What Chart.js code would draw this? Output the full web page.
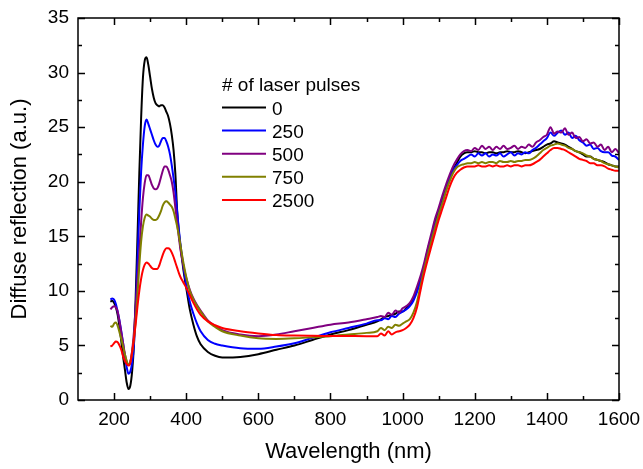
<!DOCTYPE html>
<html>
<head>
<meta charset="utf-8">
<title>Diffuse reflection</title>
<script src="https://cdn.jsdelivr.net/npm/chart.js@4/dist/chart.umd.min.js"></script>
<style>
  html, body { margin: 0; padding: 0; background: #fff; }
  canvas { display: block; }
</style>
</head>
<body>
<canvas id="chart" width="643" height="469"></canvas>
<script>
// wavelength grid (nm), shared by every series
const wavelength = [
  190, 195, 200, 205, 210, 215, 220, 225, 230, 235, 240, 245, 250, 255, 260, 265, 270, 275, 280, 285,
  290, 295, 300, 305, 310, 315, 320, 325, 330, 335, 340, 345, 350, 355, 360, 365, 370, 375, 380, 385,
  390, 395, 400,
  410, 420, 430, 440, 460, 480, 500, 550, 600, 650, 700, 750, 800, 850, 900, 930,
  940, 950, 960, 970, 980, 990, 1000, 1010, 1020, 1030,
  1040, 1050, 1060, 1070, 1080, 1090, 1100, 1110, 1120, 1130,
  1140, 1150, 1160, 1170, 1180, 1190, 1200, 1210, 1220, 1230,
  1240, 1250, 1260, 1270, 1280, 1290, 1300, 1310, 1320, 1330,
  1340, 1350, 1360, 1370, 1380, 1390, 1400, 1410, 1420, 1430,
  1440, 1450, 1460, 1470, 1480, 1490, 1500, 1510, 1520, 1530,
  1540, 1550, 1560, 1570, 1580, 1590, 1600
];

// diffuse reflection (a.u.) for each number of laser pulses
const pulses0 = [
  9.0, 9.1, 8.9, 8.5, 7.8, 6.7, 5.4, 4.0, 2.8, 1.6, 1.0, 1.3, 2.6, 5.0, 9.5, 15.0, 20.8, 25.8, 29.5, 31.1,
  31.4, 30.7, 29.6, 28.5, 27.7, 27.2, 27.0, 26.9, 27.0, 27.0, 26.8, 26.4, 26.0, 25.3, 24.3, 22.9, 20.7, 17.3, 15.3, 13.8,
  12.5, 11.3, 10.3,
  8.3, 6.9, 5.8, 5.1, 4.4, 4.05, 3.9, 3.95, 4.2, 4.6, 5.0, 5.5, 6.0, 6.4, 6.9, 7.2,
  7.4, 7.6, 7.7, 7.8, 7.9, 8.1, 8.1, 8.4, 8.7, 9.3,
  10.2, 11.1, 12.3, 13.8, 15.0, 16.4, 17.4, 18.4, 19.5, 20.4,
  21.1, 21.7, 22.3, 22.6, 22.7, 22.7, 22.8, 22.7, 22.7, 22.6,
  22.7, 22.7, 22.6, 22.7, 22.7, 22.8, 22.7, 22.7, 22.8, 22.7,
  22.6, 22.7, 22.8, 22.9, 23.0, 23.2, 23.4, 23.5, 23.7, 23.6,
  23.5, 23.4, 23.2, 23.0, 22.8, 22.7, 22.5, 22.3, 22.3, 22.1,
  22.0, 21.9, 21.8, 21.6, 21.5, 21.4, 21.4
];
const pulses250 = [
  9.2, 9.3, 9.2, 8.8, 8.1, 7.3, 6.3, 5.2, 4.0, 3.0, 2.4, 2.6, 3.4, 5.0, 8.5, 12.8, 17.3, 20.9, 23.4, 25.1,
  25.7, 25.3, 24.8, 24.3, 23.8, 23.4, 23.2, 23.3, 23.7, 24.0, 24.0, 23.7, 23.2, 22.5, 21.5, 20.3, 19.0, 17.2, 15.5, 14.0,
  12.8, 11.6, 10.6,
  9.0, 7.9, 7.0, 6.3, 5.5, 5.15, 5.0, 4.75, 4.7, 4.9, 5.2, 5.7, 6.2, 6.6, 7.0, 7.3,
  7.3, 7.5, 7.4, 7.7, 7.6, 7.9, 8.1, 8.3, 8.6, 9.1,
  9.9, 10.9, 12.0, 13.4, 14.7, 16.0, 17.0, 18.1, 19.2, 20.2,
  21.0, 21.5, 21.9, 22.1, 22.3, 22.5, 22.3, 22.6, 22.4, 22.6,
  22.3, 22.5, 22.4, 22.6, 22.3, 22.5, 22.7, 22.4, 22.6, 22.5,
  22.7, 22.6, 22.9, 23.1, 23.4, 23.7, 24.0, 24.5, 24.2, 24.5,
  24.7, 24.3, 24.5, 24.0, 24.2, 23.8, 23.6, 23.3, 23.4, 23.0,
  23.1, 22.8, 22.7, 22.7, 22.4, 22.3, 22.0
];
const pulses500 = [
  8.3, 8.5, 8.6, 8.5, 8.1, 7.2, 6.2, 5.2, 4.2, 3.5, 3.2, 3.5, 4.5, 6.2, 8.5, 11.0, 13.5, 16.3, 18.5, 19.9,
  20.6, 20.6, 20.2, 19.7, 19.4, 19.3, 19.4, 19.8, 20.4, 21.0, 21.4, 21.4, 21.1, 20.6, 20.0, 19.0, 17.6, 16.2, 14.8, 13.6,
  12.7, 11.9, 11.2,
  10.1, 9.3, 8.7, 8.2, 7.3, 6.8, 6.4, 6.0, 5.85, 6.0, 6.3, 6.6, 6.9, 7.1, 7.4, 7.6,
  7.7, 7.6, 8.0, 7.8, 8.2, 8.0, 8.4, 8.6, 8.9, 9.5,
  10.4, 11.4, 12.6, 14.0, 15.3, 16.6, 17.6, 18.7, 19.7, 20.6,
  21.4, 22.0, 22.5, 22.8, 22.9, 22.8, 23.1, 22.9, 23.3, 23.0,
  23.2, 22.9, 23.2, 23.0, 23.3, 23.0, 23.1, 23.3, 23.0, 23.2,
  23.1, 23.4, 23.2, 23.6, 23.8, 24.1, 24.3, 25.0, 24.4, 24.6,
  24.5, 24.9, 24.3, 24.5, 24.0, 24.1, 23.7, 23.9, 23.5, 23.6,
  23.2, 23.4, 22.9, 23.2, 22.7, 23.0, 22.6
];
const pulses750 = [
  6.8, 6.7, 7.0, 7.1, 6.8, 6.2, 5.6, 4.9, 4.2, 3.6, 3.2, 3.5, 4.3, 5.6, 7.3, 9.6, 12.3, 14.5, 15.9, 16.7,
  17.0, 16.9, 16.8, 16.6, 16.5, 16.5, 16.6, 16.9, 17.3, 17.8, 18.1, 18.2, 18.1, 17.9, 17.7, 17.3, 16.6, 15.9, 15.0, 14.0,
  13.0, 12.1, 11.3,
  10.0, 9.2, 8.6, 8.1, 7.2, 6.7, 6.3, 5.9, 5.65, 5.6, 5.65, 5.75, 5.85, 6.0, 6.15, 6.3,
  6.6, 6.4, 6.7, 6.6, 6.9, 6.8, 7.0, 7.2, 7.4, 8.0,
  9.0, 10.5, 12.0, 13.3, 14.6, 15.8, 17.0, 18.0, 19.1, 20.0,
  20.8, 21.3, 21.5, 21.6, 21.7, 21.7, 21.8, 21.7, 21.8, 21.7,
  21.8, 21.8, 21.7, 21.9, 21.8, 21.8, 21.9, 21.8, 21.9, 21.9,
  22.0, 22.0, 22.1, 22.3, 22.6, 22.9, 23.1, 23.3, 23.4, 23.5,
  23.4, 23.3, 23.1, 23.0, 22.8, 22.7, 22.6, 22.4, 22.3, 22.1,
  22.0, 21.9, 21.7, 21.6, 21.5, 21.4, 21.3
];
const pulses2500 = [
  4.9, 5.0, 5.2, 5.35, 5.3, 5.0, 4.6, 4.0, 3.6, 3.3, 3.15, 3.4, 4.4, 5.6, 7.0, 8.6, 10.0, 11.1, 11.9, 12.4,
  12.6, 12.5, 12.3, 12.1, 12.0, 12.0, 12.0, 12.3, 12.8, 13.3, 13.7, 13.9, 13.9, 13.8, 13.5, 13.1, 12.6, 12.1, 11.6, 11.2,
  10.9, 10.6, 10.3,
  9.6, 8.9, 8.3, 7.8, 7.2, 6.85, 6.6, 6.3, 6.1, 5.95, 5.9, 5.88, 5.87, 5.86, 5.85, 5.85,
  6.1, 5.9, 6.3, 6.0, 6.2, 6.3, 6.4, 6.6, 6.9, 7.5,
  8.5, 10.1, 11.6, 12.9, 14.1, 15.3, 16.5, 17.5, 18.5, 19.5,
  20.3, 20.8, 21.1, 21.3, 21.4, 21.4, 21.4, 21.5, 21.4, 21.4,
  21.5, 21.4, 21.5, 21.4, 21.4, 21.5, 21.4, 21.5, 21.5, 21.4,
  21.5, 21.5, 21.6, 21.8, 22.0, 22.3, 22.6, 22.9, 23.1, 23.1,
  23.0, 22.9, 22.7, 22.5, 22.3, 22.1, 22.0, 21.9, 21.7, 21.7,
  21.5, 21.5, 21.4, 21.2, 21.1, 21.0, 21.0
];

const seriesLabels = ['0', '250', '500', '750', '2500'];
const seriesValues = [pulses0, pulses250, pulses500, pulses750, pulses2500];
const seriesColors = ['#000000', '#0000FF', '#800080', '#808000', '#FF0000'];

const xTicks = [200, 400, 600, 800, 1000, 1200, 1400, 1600];
const yTicks = [0, 5, 10, 15, 20, 25, 30, 35];

const FONT = '"Liberation Sans", Arial, Helvetica, sans-serif';

// frame with inward ticks on all four sides (Origin style)
const frameTicks = {
  id: 'frameTicks',
  afterDatasetsDraw(chart) {
    const { ctx, chartArea: a, scales: { x, y } } = chart;
    const xMinor = xTicks.slice(1).map((v, i) => (v + xTicks[i]) / 2);
    const yMinor = yTicks.slice(1).map((v, i) => (v + yTicks[i]) / 2);
    ctx.save();
    ctx.strokeStyle = '#000';
    ctx.lineWidth = 1.5;
    ctx.strokeRect(a.left, a.top, a.right - a.left, a.bottom - a.top);
    ctx.beginPath();
    const xMark = (v, len) => {
      const px = Math.round(x.getPixelForValue(v)) + 0.5;
      ctx.moveTo(px, a.bottom); ctx.lineTo(px, a.bottom - len);
      ctx.moveTo(px, a.top); ctx.lineTo(px, a.top + len);
    };
    const yMark = (v, len) => {
      const py = Math.round(y.getPixelForValue(v)) + 0.5;
      ctx.moveTo(a.left, py); ctx.lineTo(a.left + len, py);
      ctx.moveTo(a.right, py); ctx.lineTo(a.right - len, py);
    };
    xTicks.forEach(v => xMark(v, 7));
    xMinor.forEach(v => xMark(v, 4));
    yTicks.forEach(v => yMark(v, 7));
    yMinor.forEach(v => yMark(v, 4));
    ctx.stroke();
    ctx.restore();
  }
};

// legend block inside the plot, built from the datasets
const innerLegend = {
  id: 'innerLegend',
  afterDraw(chart) {
    const { ctx } = chart;
    const left = 222, top = 107.5, step = 23.1;
    ctx.save();
    ctx.fillStyle = '#000';
    ctx.font = '19px ' + FONT;
    ctx.textBaseline = 'alphabetic';
    ctx.textAlign = 'left';
    ctx.fillText('# of laser pulses', left, 91);
    chart.data.datasets.forEach((ds, i) => {
      const yy = top + i * step;
      ctx.strokeStyle = ds.borderColor;
      ctx.lineWidth = 2;
      ctx.beginPath();
      ctx.moveTo(left, yy);
      ctx.lineTo(left + 44, yy);
      ctx.stroke();
      ctx.fillText(ds.label, left + 50, yy + 7);
    });
    ctx.restore();
  }
};

const datasets = seriesLabels.map((label, i) => ({
  label,
  data: wavelength.map((w, j) => ({ x: w, y: seriesValues[i][j] })),
  borderColor: seriesColors[i],
  backgroundColor: seriesColors[i],
  borderWidth: 2,
  pointRadius: 0,
  cubicInterpolationMode: 'monotone',
  order: seriesLabels.length - i
}));

new Chart(document.getElementById('chart'), {
  type: 'line',
  data: { datasets },
  options: {
    responsive: false,
    animation: false,
    devicePixelRatio: 1,
    layout: { padding: { left: 0, right: 24, top: 18, bottom: 0 } },
    plugins: {
      legend: { display: false },
      tooltip: { enabled: false }
    },
    scales: {
      x: {
        type: 'linear',
        min: 100,
        max: 1600,
        afterFit(scale) {
          scale.height = 69;
          scale.paddingLeft = 0;
          scale.paddingRight = 0;
        },
        afterBuildTicks(scale) { scale.ticks = xTicks.map(v => ({ value: v })); },
        grid: { display: false, drawTicks: false },
        border: { display: false },
        ticks: {
          color: '#000',
          padding: 8,
          maxRotation: 0,
          autoSkip: false,
          font: { family: FONT, size: 19 },
          callback: v => String(v)
        },
        title: {
          display: true,
          text: 'Wavelength (nm)',
          color: '#000',
          font: { family: FONT, size: 22 },
          padding: { top: 4, bottom: 4 }
        }
      },
      y: {
        type: 'linear',
        min: 0,
        max: 35,
        afterFit(scale) {
          scale.width = 78;
          scale.paddingTop = 0;
          scale.paddingBottom = 0;
        },
        afterBuildTicks(scale) { scale.ticks = yTicks.map(v => ({ value: v })); },
        grid: { display: false, drawTicks: false },
        border: { display: false },
        ticks: {
          color: '#000',
          padding: 9,
          font: { family: FONT, size: 19 },
          callback: v => String(v)
        },
        title: {
          display: true,
          text: 'Diffuse reflection (a.u.)',
          color: '#000',
          font: { family: FONT, size: 22 },
          padding: { top: 7, bottom: 4 }
        }
      }
    }
  },
  plugins: [frameTicks, innerLegend]
});
</script>
</body>
</html>
